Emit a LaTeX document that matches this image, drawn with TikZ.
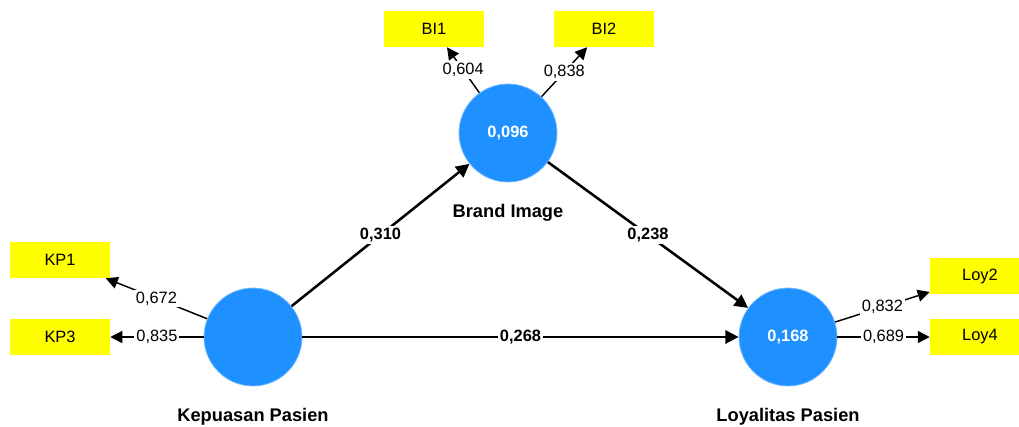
\documentclass[tikz,border=0pt]{standalone}
\usepackage{fontspec}
\setmainfont{Liberation Sans}
\usetikzlibrary{arrows.meta,positioning}
\definecolor{latent}{RGB}{30,144,255}
\definecolor{indik}{RGB}{255,255,0}

\begin{document}
\begin{tikzpicture}[
  x=0.75pt, y=-0.75pt,
  construct/.style={circle, fill=latent, draw=latent!60!white, line width=0.6pt,
              minimum size=73.5pt, inner sep=0pt, text=white,
              font=\fontsize{12.3}{14}\selectfont\bfseries},
  indicator/.style={fill=indik, minimum width=75pt, minimum height=27pt,
              inner sep=0pt, font=\fontsize{12.3}{14}\selectfont},
  cname/.style={font=\fontsize{13.7}{16}\selectfont\bfseries, inner sep=0pt},
  relpath/.style={-{Triangle[length=10pt,width=10pt]}, line width=1.9pt},
  loading/.style={-{Triangle[length=9pt,width=9pt]}, line width=1.1pt},
  coef/.style={midway, fill=white, inner sep=1.5pt,
              font=\fontsize{12.3}{14}\selectfont\bfseries},
  lval/.style={midway, fill=white, inner sep=1.5pt,
              font=\fontsize{12.3}{14}\selectfont}
]
\useasboundingbox (0,0) rectangle (1019,426);

% Constructs
\node[construct] (bi)  at (508,133) {0,096};
\node[construct] (kp)  at (253,337) {};
\node[construct] (loy) at (788,337) {0,168};

% Construct names
\node[cname, below=16.5pt of bi]  (binm)  {Brand Image};
\node[cname, below=16.5pt of kp]  (kpnm)  {Kepuasan Pasien};
\node[cname, below=16.5pt of loy] (loynm) {Loyalitas Pasien};

% Indicators
\node[indicator] (bi1)  at (434,29)  {BI1};
\node[indicator] (bi2)  at (604,29)  {BI2};
\node[indicator] (kp1)  at (60,260)  {KP1};
\node[indicator] (kp3)  at (60,337)  {KP3};
\node[indicator] (loy2) at (980,276) {Loy2};
\node[indicator] (loy4) at (980,337) {Loy4};

% Path coefficients
\draw[relpath] (kp) -- (bi)  node[coef] {0,310};
\draw[relpath] (bi) -- (loy) node[coef] {0,238};
\draw[relpath] (kp) -- (loy) node[coef] {0,268};

% Outer loadings
\draw[loading] (bi)  -- (bi1)  node[lval] {0,604};
\draw[loading] (bi)  -- (bi2)  node[lval] {0,838};
\draw[loading] (kp)  -- (kp1)  node[lval] {0,672};
\draw[loading] (kp)  -- (kp3)  node[lval] {0,835};
\draw[loading] (loy) -- (loy2) node[lval] {0,832};
\draw[loading] (loy) -- (loy4) node[lval] {0,689};
\end{tikzpicture}
\end{document}
